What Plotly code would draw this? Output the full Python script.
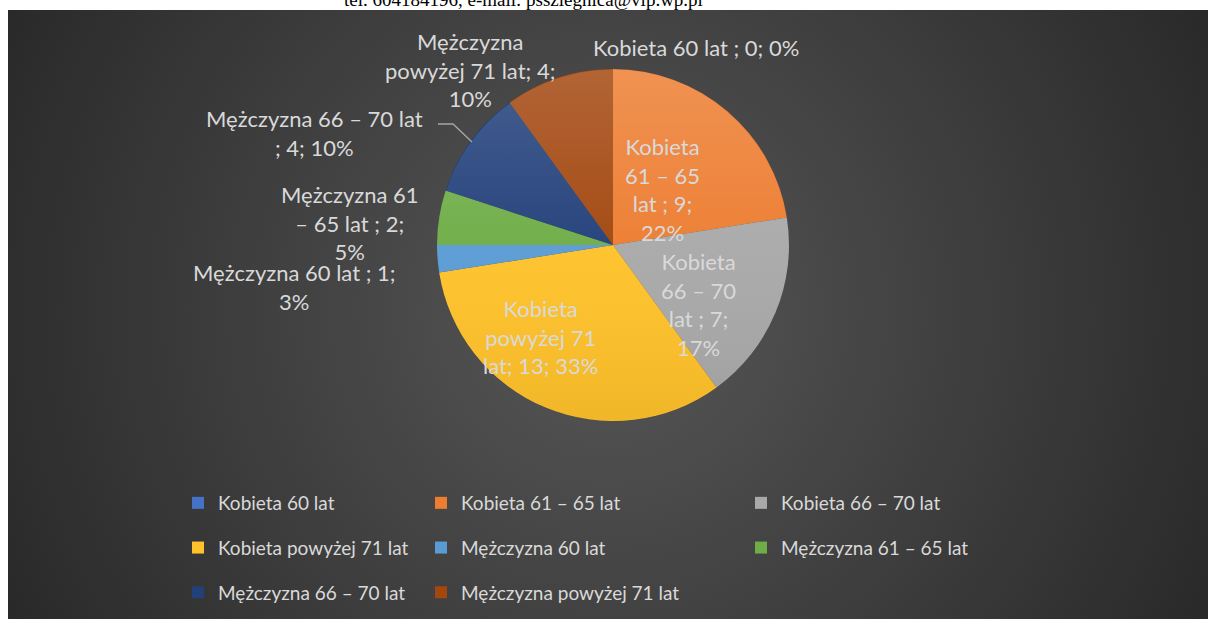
import base64
import plotly.graph_objects as go

W, H = 1208, 619

# ---- data ----
names = ["Kobieta 60 lat ", "Kobieta 61 – 65 lat ", "Kobieta 66 – 70 lat ",
         "Kobieta powyżej 71 lat", "Mężczyzna 60 lat ", "Mężczyzna 61 – 65 lat ",
         "Mężczyzna 66 – 70 lat ", "Mężczyzna powyżej 71 lat"]
values = [0, 9, 7, 13, 1, 2, 4, 4]
percents = [0, 22, 17, 33, 3, 5, 10, 10]
colors = ["#4472C4", "#ED7D31", "#A9A9A9", "#FFC22A",
          "#5B9BD5", "#6FAD47", "#22407A", "#A3470F"]
# words per line when wrapping each data label
wrap_words = [[6], [1, 3, 3, 1], [1, 3, 3, 1], [1, 2, 3],
              [5, 1], [2, 5, 1], [5, 3], [1, 4, 1]]
header_text = "tel. 604184196, e-mail: psszlegnica@vip.wp.pl"

# ---- layout helpers ----
def px(x):
    return x / W

def py(y):
    return 1 - y / H

pie_cx, pie_cy, pie_r = 613, 245, 176

label_pos = [(696, 47), (662, 190), (698, 304), (540, 337),
             (294, 287), (350, 223), (314, 133), (470, 70)]


def make_label(i):
    words = f"{names[i]}; {values[i]}; {percents[i]}%".split()
    lines, k = [], 0
    for n in wrap_words[i]:
        lines.append(" ".join(words[k:k + n]))
        k += n
    return "<br>".join(lines)


fig = go.Figure()

fig.add_trace(go.Pie(
    labels=[n.strip() for n in names], values=values,
    marker=dict(colors=colors, line=dict(width=0)),
    sort=False, direction="clockwise", rotation=0,
    textinfo="none", showlegend=False, automargin=False,
    domain=dict(x=[px(pie_cx - pie_r), px(pie_cx + pie_r)],
                y=[py(pie_cy + pie_r), py(pie_cy - pie_r)]),
))

# legend entries (three columns)
legend_cols = [[0, 3, 6], [1, 4, 7], [2, 5]]
legend_ids = ["legend", "legend2", "legend3"]
for col, lid in zip(legend_cols, legend_ids):
    for i in col:
        fig.add_trace(go.Scatter(
            x=[None], y=[None], mode="markers", name=names[i].strip(),
            marker=dict(symbol="square", size=12, color=colors[i]),
            legend=lid, legendgroup=names[i], hoverinfo="skip"))

legend_font = dict(family="Lato, Carlito, sans-serif", size=19, color="#d9d9d9")
col_text_x = [218, 461, 781]
leg_common = dict(orientation="v", yanchor="top", xanchor="left",
                  bgcolor="rgba(0,0,0,0)", borderwidth=0, font=legend_font,
                  traceorder="grouped", tracegroupgap=17)
legends = {}
for lid, tx in zip(legend_ids, col_text_x):
    legends[lid] = dict(x=px(tx - 40), y=py(484), **leg_common)

# background radial gradient (SVG image)
bg_w, bg_h = 1200, 609
svg = (f'<svg xmlns="http://www.w3.org/2000/svg" width="{bg_w}" height="{bg_h}" '
       f'viewBox="0 0 {bg_w} {bg_h}" preserveAspectRatio="none">'
       '<defs><radialGradient id="g" gradientUnits="userSpaceOnUse" '
       'cx="600" cy="300" r="720">'
       '<stop offset="0" stop-color="#575757"/>'
       '<stop offset="1" stop-color="#262626"/></radialGradient></defs>'
       f'<rect width="{bg_w}" height="{bg_h}" fill="url(#g)"/></svg>')
bg_src = "data:image/svg+xml;base64," + base64.b64encode(svg.encode()).decode()

# subtle vertical shading over the pie (light top, darker bottom)
d = 2 * pie_r
shade = (f'<svg xmlns="http://www.w3.org/2000/svg" width="{d}" height="{d}" '
         f'viewBox="0 0 {d} {d}">'
         '<defs><linearGradient id="s" x1="0" y1="0" x2="0" y2="1">'
         '<stop offset="0" stop-color="#ffffff" stop-opacity="0.16"/>'
         '<stop offset="0.5" stop-color="#ffffff" stop-opacity="0.03"/>'
         '<stop offset="1" stop-color="#000000" stop-opacity="0.06"/>'
         '</linearGradient></defs>'
         f'<circle cx="{pie_r}" cy="{pie_r}" r="{pie_r - 0.5}" fill="url(#s)"/></svg>')
shade_src = "data:image/svg+xml;base64," + base64.b64encode(shade.encode()).decode()

annotations = []
lab_font = dict(family="Lato, Carlito, sans-serif", size=22, color="#d9d9d9")
for i, (lx, ly) in enumerate(label_pos):
    annotations.append(dict(
        x=px(lx), y=py(ly), xref="paper", yref="paper", text=make_label(i),
        showarrow=False, xanchor="center", yanchor="middle", align="center",
        font=lab_font))
annotations.append(dict(
    x=px(523), y=py(12), xref="paper", yref="paper", text=header_text,
    showarrow=False, xanchor="center", yanchor="bottom",
    font=dict(family="Liberation Serif, Times New Roman, serif", size=19,
              color="#000000")))

leader = (f"M {px(438)} {py(124)} L {px(453)} {py(124)} L {px(472)} {py(142)}")

fig.update_layout(
    width=W, height=H,
    margin=dict(l=0, r=0, t=0, b=0),
    paper_bgcolor="#ffffff", plot_bgcolor="rgba(0,0,0,0)",
    xaxis=dict(visible=False), yaxis=dict(visible=False),
    images=[dict(source=bg_src, xref="paper", yref="paper",
                 x=px(8), y=py(10), sizex=bg_w / W, sizey=bg_h / H,
                 xanchor="left", yanchor="top", sizing="stretch",
                 layer="below"),
            dict(source=shade_src, xref="paper", yref="paper",
                 x=px(pie_cx - pie_r), y=py(pie_cy - pie_r),
                 sizex=d / W, sizey=d / H,
                 xanchor="left", yanchor="top", sizing="stretch",
                 layer="above")],
    shapes=[dict(type="path", path=leader, xref="paper", yref="paper",
                 line=dict(color="#a6a6a6", width=1.3))],
    annotations=annotations,
    **legends,
)

fig.write_html("out.html", config={"displayModeBar": False},
               post_script="document.body.style.margin='0';")
